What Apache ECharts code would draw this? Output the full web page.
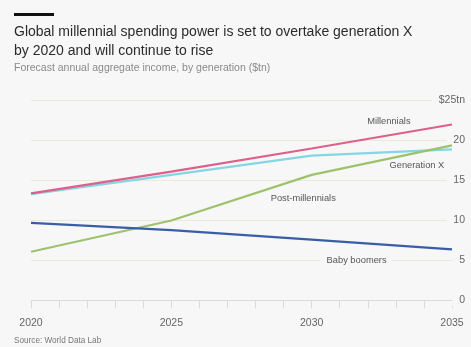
<!DOCTYPE html>
<html><head><meta charset="utf-8">
<script src="https://cdn.jsdelivr.net/npm/echarts@6/dist/echarts.min.js"></script>
<style>html,body{margin:0;padding:0;background:#f7f7f7}#c{width:471px;height:347px}</style>
</head><body><div id="c"></div>
<script>
const years = [2020, 2025, 2030, 2035];
const millennials = [13.4, 16.1, 19.0, 22.0];
const generationX = [13.3, 15.7, 18.1, 18.9];
const postMillennials = [6.1, 10.0, 15.7, 19.4];
const babyBoomers = [9.7, 8.8, 7.6, 6.4];
const seriesNames = ['Millennials', 'Generation X', 'Post-millennials', 'Baby boomers'];
const labelAnchors = [[2032.75, 22.4], [2033.75, 16.9], [2029.7, 12.8], [2031.6, 5]];
const colors = ['#df5f8c', '#84d6e2', '#9cc36b', '#3a5da8'];
const BG = '#f7f7f7';
const FONT = '"Liberation Sans", Arial, sans-serif';

const allSeries = [millennials, generationX, postMillennials, babyBoomers];
const chart = echarts.init(document.getElementById('c'));
chart.setOption({
  backgroundColor: BG,
  animation: false,
  textStyle: { fontFamily: FONT },
  title: [
    { text: 'Global millennial spending power is set to overtake generation X\nby 2020 and will continue to rise',
      left: 14, top: 23, padding: 0,
      textStyle: { fontFamily: FONT, fontSize: 14, fontWeight: 'normal', color: '#2b2b2b', lineHeight: 19 } },
    { text: 'Forecast annual aggregate income, by generation ($tn)', left: 14, top: 63, padding: 0,
      textStyle: { fontFamily: FONT, fontSize: 10.5, fontWeight: 'normal', color: '#8a8a8a' } },
    { text: 'Source: World Data Lab', left: 14, top: 337, padding: 0,
      textStyle: { fontFamily: FONT, fontSize: 8.2, fontWeight: 'normal', color: '#777' } }
  ],
  graphic: [{ type: 'rect', left: 14, top: 13, shape: { width: 40, height: 3 }, style: { fill: '#111' } }],
  grid: { left: 31, right: 19, top: 100.5, bottom: 46.5 },
  xAxis: {
    type: 'value', min: 2020, max: 2035, interval: 5,
    axisLine: { show: true, lineStyle: { color: '#dcdcd6', width: 1 } },
    axisTick: { show: true, length: 8, lineStyle: { color: '#dcdcd6' } },
    minorTick: { show: true, splitNumber: 5, length: 8, lineStyle: { color: '#dcdcd6' } },
    splitLine: { show: false },
    axisLabel: { color: '#666', fontSize: 10.5, margin: 17, formatter: v => String(v) }
  },
  yAxis: [
    { type: 'value', min: 0, max: 25, interval: 5, position: 'right', z: 0,
      axisLine: { show: false }, axisTick: { show: false }, axisLabel: { show: false },
      splitLine: { show: true, lineStyle: { color: '#ebe8dc', width: 1 } } },
    { type: 'value', min: 0, max: 25, interval: 5, position: 'right', z: 1,
      axisLine: { show: false }, axisTick: { show: false }, splitLine: { show: false },
      axisLabel: { color: '#666', fontSize: 10.5, align: 'right', margin: 13,
        backgroundColor: BG, padding: [0, 0, 0, 7],
        formatter: v => v === 25 ? '$25tn' : String(v) } }
  ],
  series: allSeries.map((vals, i) => ({
    name: seriesNames[i], type: 'line', z: 3 + (i === 0 ? 1 : 0),
    data: years.map((y, j) => [y, vals[j]]),
    showSymbol: false, symbol: 'none',
    lineStyle: { color: colors[i], width: 2.2 },
    markPoint: {
      symbol: 'rect', symbolSize: 1, itemStyle: { color: 'rgba(0,0,0,0)' },
      data: [{ coord: labelAnchors[i], value: seriesNames[i] }],
      label: { show: true, position: 'inside', formatter: seriesNames[i], color: '#555', fontSize: 9.3,
        backgroundColor: i === 3 ? BG : 'transparent', padding: i === 3 ? [0, 6] : 0 }
    }
  }))
});
</script></body></html>
